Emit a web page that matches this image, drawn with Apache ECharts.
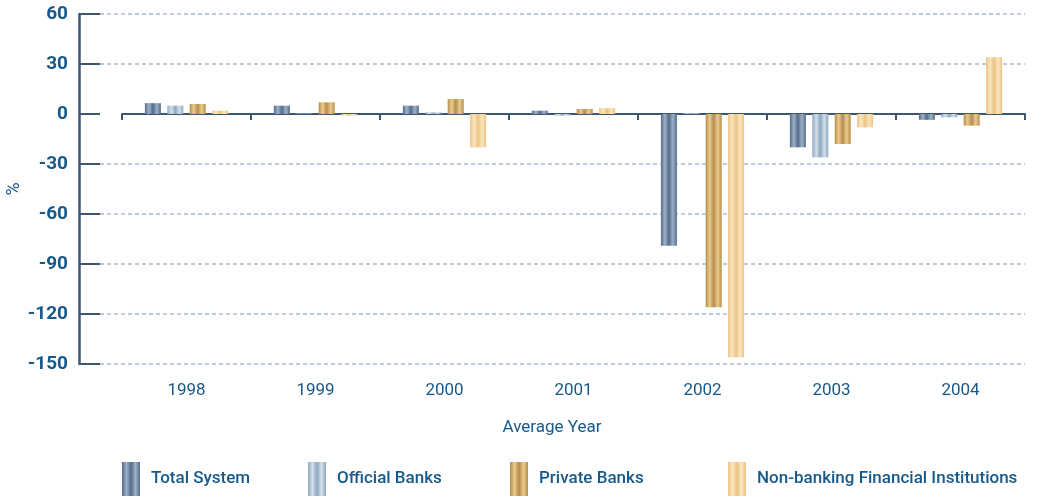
<!DOCTYPE html>
<html>
<head>
<meta charset="utf-8">
<script src="https://cdn.jsdelivr.net/npm/echarts@6/dist/echarts.min.js"></script>
<style>
  html, body { margin: 0; padding: 0; background: #ffffff; }
  #chart { width: 1037px; height: 496px; }
</style>
</head>
<body>
<div id="chart"></div>
<script>
// Annual percentage change by institution type
const years = ['1998', '1999', '2000', '2001', '2002', '2003', '2004'];
const totalSystem = [6.5, 5, 5, 2, -79, -20, -3.5];
const officialBanks = [5, 0.3, 1, -1, 0.5, -26, -2];
const privateBanks = [6, 7, 9, 3, -116, -18, -7];
const nonBanking = [2, -1, -20, 3.5, -146, -8, 34];
const yTicks = [-150, -120, -90, -60, -30, 0, 30, 60];

const seriesNames = ['Total System', 'Official Banks', 'Private Banks', 'Non-banking Financial Institutions'];

const TEXT = '#17598a';
const AXIS = '#3f5670';
const GRID = '#a9bccd';
const FONT = 'Roboto, "DejaVu Sans", sans-serif';

// striped, cylinder-like fill for each series
function stripes(dark, light) {
  return {
    type: 'linear', x: 0, y: 0, x2: 1, y2: 0,
    colorStops: [
      { offset: 0, color: dark },
      { offset: 0.25, color: light },
      { offset: 0.5, color: dark },
      { offset: 0.75, color: light },
      { offset: 1, color: dark }
    ]
  };
}
const fills = [
  stripes('#556b8a', '#9db1c8'),
  stripes('#8fa7bf', '#d3e0ea'),
  stripes('#b58d4b', '#e9cb8e'),
  stripes('#ecc283', '#f9e7bf')
];
const seriesData = [totalSystem, officialBanks, privateBanks, nonBanking];

// no dashed line along zero, where the category axis sits
const splitColors = yTicks.map(v => v === 0 ? 'rgba(0,0,0,0)' : GRID);

const legendLefts = [117, 303, 505, 723];

const chart = echarts.init(document.getElementById('chart'), null, { renderer: 'canvas' });

chart.setOption({
  backgroundColor: '#ffffff',
  animation: false,
  textStyle: { fontFamily: FONT },
  grid: [
    { left: 79, right: 12, top: 14, bottom: 132, outerBoundsMode: 'none', containLabel: false },
    { left: 122, right: 12, top: 14, bottom: 132, outerBoundsMode: 'none', containLabel: false }
  ],
  legend: seriesNames.map((name, i) => ({
    data: [name],
    left: legendLefts[i],
    top: 457,
    itemWidth: 18,
    itemHeight: 34,
    icon: 'rect',
    selectedMode: false,
    textStyle: { color: TEXT, fontSize: 17, fontWeight: 500, fontFamily: FONT, padding: [0, 0, 0, 6] }
  })),
  xAxis: [
    {
      gridIndex: 0,
      type: 'category',
      data: years,
      name: 'Average Year',
      nameLocation: 'middle',
      nameGap: 55,
      nameTextStyle: { color: TEXT, fontSize: 17, fontFamily: FONT },
      axisLine: { show: false },
      axisTick: { show: false },
      axisLabel: { show: false },
      splitLine: { show: false }
    },
    {
      gridIndex: 1,
      type: 'category',
      data: years,
      axisLine: { show: true, onZero: true, lineStyle: { color: AXIS, width: 2 } },
      axisTick: { show: true, length: 6, lineStyle: { color: AXIS, width: 2 } },
      axisLabel: { show: false },
      splitLine: { show: false }
    },
    {
      gridIndex: 1,
      type: 'category',
      data: years,
      position: 'bottom',
      axisLine: { show: false, onZero: false },
      axisTick: { show: false },
      axisLabel: { color: TEXT, fontSize: 17, fontFamily: FONT, margin: 18 },
      splitLine: { show: false }
    }
  ],
  yAxis: [
    {
      gridIndex: 0,
      type: 'value',
      min: -150,
      max: 60,
      interval: 30,
      name: '%',
      nameLocation: 'middle',
      nameGap: 56,
      nameMoveOverlap: false,
      nameTextStyle: { color: TEXT, fontSize: 18, fontFamily: FONT },
      axisLine: { show: true, lineStyle: { color: AXIS, width: 2.5 } },
      axisTick: { show: true, inside: true, length: 21, lineStyle: { color: AXIS, width: 2 } },
      axisLabel: { color: TEXT, fontSize: 19, fontWeight: 'bold', fontFamily: FONT, margin: 11 },
      splitLine: { show: true, lineStyle: { color: splitColors, width: 1.5, type: [4, 3] } }
    },
    {
      gridIndex: 1,
      type: 'value',
      min: -150,
      max: 60,
      interval: 30,
      show: false,
      splitLine: { show: false }
    }
  ],
  series: seriesNames.map((name, i) => ({
    name: name,
    type: 'bar',
    xAxisIndex: 1,
    yAxisIndex: 1,
    barWidth: 16,
    barGap: '40%',
    data: seriesData[i],
    itemStyle: { color: fills[i] }
  }))
});
</script>
</body>
</html>
